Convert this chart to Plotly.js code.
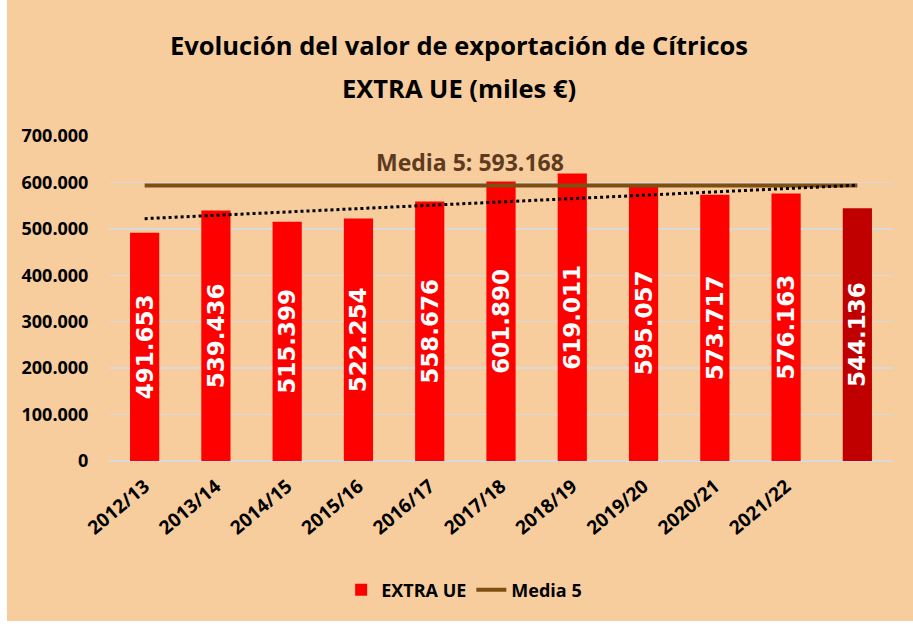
<!DOCTYPE html>
<html>
<head>
<meta charset="utf-8">
<script src="https://cdn.plot.ly/plotly-3.0.1.min.js"></script>
<style>
html,body{margin:0;padding:0;background:#ffffff;}
#chart{position:absolute;left:7px;top:0px;width:906px;height:621px;}
</style>
</head>
<body>
<div id="chart"></div>
<script>
const categories = ["2012/13","2013/14","2014/15","2015/16","2016/17","2017/18","2018/19","2019/20","2020/21","2021/22","2022/23"];
const extraUE = [491653,539436,515399,522254,558676,601890,619011,595057,573717,576163,544136];
const media5Value = 593168;
const trendEnds = [522000, 594000];
const yTickVals = [0,100000,200000,300000,400000,500000,600000,700000];
const yTickText = ["0","100.000","200.000","300.000","400.000","500.000","600.000","700.000"];
const xTickText = ["2012/13","2013/14","2014/15","2015/16","2016/17","2017/18","2018/19","2019/20","2020/21","2021/22",""];
const titleLines = ["Evolución del valor de exportación de Cítricos","EXTRA UE (miles €)"];

const fmt = v => String(v).replace(/\B(?=(\d{3})+(?!\d))/g, ".");
const barColors = extraUE.map((v,i)=> i===extraUE.length-1 ? "#C00000" : "#FF0000");
const brown = "#7F4F12";
const font = "'Open Sans', sans-serif";

const traces = [
  {
    type:"bar", name:"EXTRA UE", x:categories, y:extraUE,
    marker:{color:barColors},
    text: extraUE.map(fmt), textposition:"inside", insidetextanchor:"middle",
    textangle:-90, constraintext:"none",
    textfont:{family:"'DejaVu Sans', sans-serif", size:23, color:"#ffffff", weight:"bold"},
    hoverinfo:"skip"
  },
  {
    type:"scatter", mode:"lines", name:"Media 5",
    x:categories, y:categories.map(()=>media5Value),
    line:{color:brown, width:4}
  },
  {
    type:"scatter", mode:"lines", name:"Tendencia", showlegend:false,
    x:[categories[0], categories[categories.length-1]], y:trendEnds,
    line:{color:"#000000", width:3, dash:"dot"}
  }
];

const layout = {
  width:906, height:621,
  paper_bgcolor:"#F7CD9E", plot_bgcolor:"#F7CD9E",
  margin:{l:102, r:20, t:136, b:160},
  showlegend:true,
  legend:{orientation:"h", x:0.453, xanchor:"center", y:-0.34, yanchor:"top",
          font:{family:font, size:18, color:"#000", weight:"bold"}, traceorder:"normal",
          bgcolor:"rgba(0,0,0,0)"},
  bargap:0.59,
  xaxis:{type:"category", tickvals:categories, ticktext:xTickText, tickangle:-40,
         showgrid:false, showline:false, ticks:"outside", ticklen:6, tickcolor:"rgba(0,0,0,0)",
         tickfont:{family:font, size:19, color:"#000", weight:"bold"}},
  yaxis:{range:[0,700000], tickvals:yTickVals, ticktext:yTickText,
         showgrid:true, gridcolor:"#D9D9D9", gridwidth:1.5, zeroline:true, zerolinecolor:"#D9D9D9", zerolinewidth:1.5,
         showline:false, ticks:"outside", ticklen:16, tickcolor:"rgba(0,0,0,0)",
         tickfont:{family:font, size:18, color:"#000", weight:"bold"}},
  annotations:[
    {text:titleLines[0], xref:"paper", yref:"paper", x:0.446, y:1.28, yanchor:"middle", showarrow:false,
     font:{family:font, size:25.5, color:"#000", weight:"bold"}},
    {text:titleLines[1], xref:"paper", yref:"paper", x:0.446, y:1.148, yanchor:"middle", showarrow:false,
     font:{family:font, size:25.5, color:"#000", weight:"bold"}},
    {text:"Media 5: "+fmt(media5Value), x:"2016/17", y:media5Value, yshift:24, xshift:40,
     showarrow:false, font:{family:font, size:23, color:"#5E3A1E", weight:"bold"}}
  ]
};

Plotly.newPlot("chart", traces, layout, {displayModeBar:false, staticPlot:true});
</script>
</body>
</html>
